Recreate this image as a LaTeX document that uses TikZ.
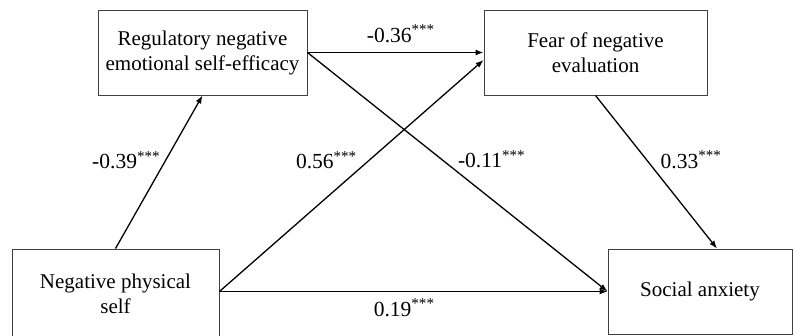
\documentclass[tikz,border=0pt]{standalone}
\usepackage{fontspec}
\setmainfont{Liberation Serif}
\usetikzlibrary{arrows.meta}

\tikzset{
    kasten/.style={draw=black!75, line width=0.9pt, align=center, inner sep=0pt,
        font=\fontsize{21}{25}\selectfont},
    pfeil/.style={-{Latex[length=8pt,width=6pt]}, line width=1.3pt},
    wert/.style={inner sep=0pt, font=\fontsize{21.5}{25}\selectfont}
}

\begin{document}
\begin{tikzpicture}[x=1pt, y=1pt]
    \useasboundingbox (0,0) rectangle (793,335);
    \path node[kasten, minimum width=209pt, minimum height=85pt] (RNE) at (202.5,282.5) {Regulatory negative\\emotional self-efficacy}
        node[kasten, minimum width=223pt, minimum height=85pt] (FNE) at (595.5,282.5) {Fear of negative\\evaluation}
        node[kasten, minimum width=207pt, minimum height=89pt] (NPS) at (115.5,41.5) {Negative physical\\self}
        node[kasten, minimum width=184pt, minimum height=85pt] (SA) at (700,43.5) {Social anxiety};
    \draw[pfeil] (RNE.east) -- node[wert, pos=.53, anchor=base, yshift=10pt] {-0.36\textsuperscript{***}} (FNE.west);
    \draw[pfeil] (RNE.east) -- node[wert, pos=.483, anchor=base west, xshift=5pt] {-0.11\textsuperscript{***}} (SA.west);
    \draw[pfeil] (NPS.north) -- node[wert, pos=.52, anchor=base east] {-0.39\textsuperscript{***}} (RNE.south);
    \draw[pfeil] ([yshift=2pt]NPS.east) -- node[wert, pos=.53, anchor=base east, xshift=-2pt] {0.56\textsuperscript{***}} ([yshift=-7.5pt]FNE.west);
    \draw[pfeil] ([yshift=2pt]NPS.east) -- node[wert, pos=.476, anchor=base, yshift=-25pt] {0.19\textsuperscript{***}} (SA.west);
    \draw[pfeil] (FNE.south) -- node[wert, pos=.474, anchor=base west, xshift=7pt] {0.33\textsuperscript{***}} ([xshift=17pt]SA.north);
\end{tikzpicture}
\end{document}
